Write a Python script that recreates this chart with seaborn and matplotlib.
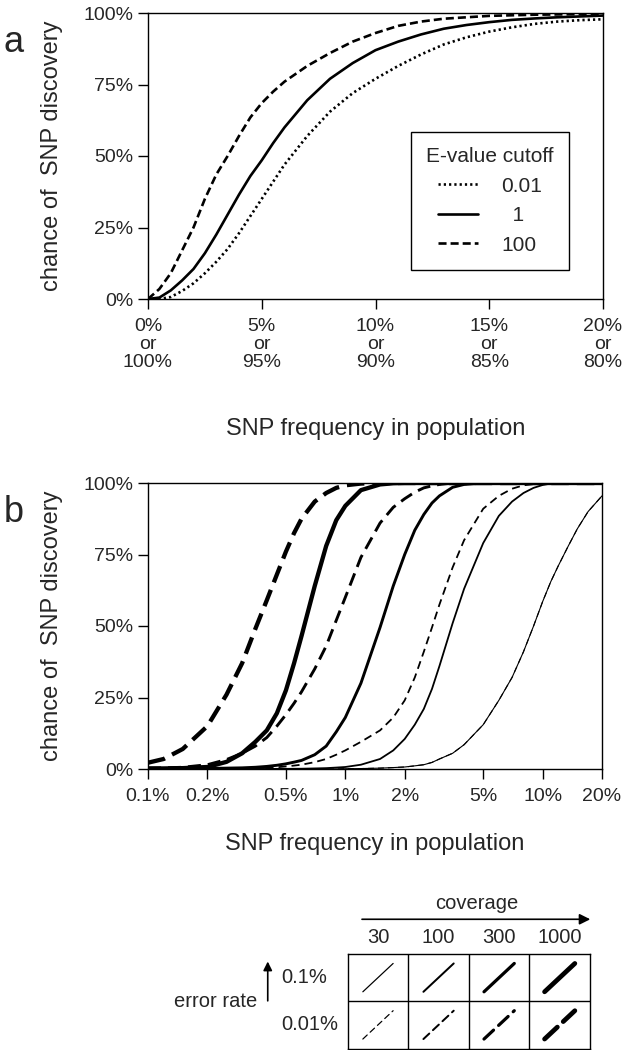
import matplotlib
matplotlib.use("Agg")
import matplotlib.pyplot as plt
import seaborn as sns

# ---- panel a: chance of discovery vs SNP frequency, by E-value cutoff ----
freq_a = [0, 0.5, 1, 1.5, 2, 2.5, 3, 3.5, 4, 4.5, 5, 5.5, 6, 7, 8, 9, 10,
          11, 12, 13, 14, 15, 16, 17, 18, 19, 20]
chance_e001 = [0, 0, 0.7, 2.8, 5.5, 9, 13, 17.5, 23, 29, 35, 41, 47, 57, 65.5,
               72, 77, 81.5, 85.5, 89, 91.5, 93.5, 95, 96.2, 97, 97.5, 97.8]
chance_e1 = [0, 0.5, 3, 6.5, 10.5, 16, 22.5, 29.5, 36.5, 43, 48.5, 54.5, 60,
             69.5, 77, 82.5, 87, 90, 92.5, 94.5, 95.8, 96.8, 97.6, 98.1, 98.5,
             98.8, 99.1]
chance_e100 = [0, 3.5, 9, 17, 25, 35, 43.5, 50, 57, 63.5, 68.5, 72.5, 76, 81.5,
               86, 90, 93, 95.5, 97, 98, 98.5, 99, 99.2, 99.4, 99.5, 99.6, 99.7]
evalue_labels = ["0.01", "  1", "100"]
xticks_a = [0, 5, 10, 15, 20]
xticklabels_a = ["0%\nor\n100%", "5%\nor\n95%", "10%\nor\n90%",
                 "15%\nor\n85%", "20%\nor\n80%"]

# ---- panel b: log frequency axis, coverage x error rate ----
freq_b = [0.1, 0.12, 0.15, 0.2, 0.25, 0.3, 0.35, 0.4, 0.45, 0.5,
          0.55, 0.6, 0.7, 0.8, 0.9, 1,
          1.2, 1.5, 1.75, 2, 2.25, 2.5, 2.75, 3,
          3.5, 4, 5, 6, 7, 8, 9, 10,
          11, 12, 13.5, 15, 17, 20]
# error rate 0.1% (solid)
cov30_err01 = [0, 0, 0, 0, 0, 0, 0, 0, 0, 0,
               0, 0, 0, 0, 0, 0.1,
               0.15, 0.3, 0.5, 0.7, 1.1, 1.5, 2.3, 3.5,
               5.5, 8.5, 15.5, 24, 32, 41, 50, 58.5,
               65.5, 71, 78, 84, 90, 95.5]
cov100_err01 = [0, 0, 0, 0, 0, 0, 0, 0, 0.05, 0.05,
                0.08, 0.1, 0.2, 0.3, 0.5, 0.7,
                1.5, 3.5, 6.5, 10.5, 15.5, 21, 28, 36,
                51, 63, 79, 88.5, 93.5, 96.5, 98.3, 99.3,
                99.8, 100, 100, 100, 100, 100]
cov300_err01 = [0.1, 0.1, 0.1, 0.2, 0.3, 0.4, 0.6, 0.9, 1.3, 1.8,
                2.4, 3, 5, 8, 13, 18,
                30, 49.5, 64, 75, 83.5, 89, 93, 95.5,
                98.5, 99.5, 100, 100, 100, 100, 100, 100,
                100, 100, 100, 100, 100, 100]
cov1000_err01 = [0.2, 0.2, 0.3, 0.7, 2.5, 5.5, 9.5, 13.5, 19.5, 27.5,
                 37, 46.5, 64, 78, 87, 92,
                 97.5, 99.5, 99.9, 100, 100, 100, 100, 100,
                 100, 100, 100, 100, 100, 100, 100, 100,
                 100, 100, 100, 100, 100, 100]
# error rate 0.01% (dashed)
cov30_err001 = [0, 0, 0, 0, 0, 0, 0, 0, 0, 0,
                0, 0, 0, 0, 0, 0.1,
                0.15, 0.3, 0.5, 0.7, 1.1, 1.5, 2.3, 3.5,
                5.5, 8.5, 15.5, 24, 32, 41, 50, 58.5,
                65.5, 71, 78, 84, 90, 95.5]
cov100_err001 = [0.05, 0.05, 0.1, 0.1, 0.2, 0.2, 0.3, 0.4, 0.6, 0.9,
                 1.2, 1.5, 2.4, 3.5, 5, 6.5,
                 9.5, 13.5, 18, 24, 32, 41, 49.5, 57.5,
                 70.5, 80, 91, 95.5, 98, 99.2, 99.6, 99.8,
                 99.9, 100, 100, 100, 100, 100]
cov300_err001 = [0.3, 0.4, 0.6, 1.5, 3.3, 5.5, 8, 11, 15, 19,
                 23, 27, 35, 43, 52, 60,
                 74, 86, 91.5, 94.5, 96.8, 98.3, 99, 99.5,
                 100, 100, 100, 100, 100, 100, 100, 100,
                 100, 100, 100, 100, 100, 100]
cov1000_err001 = [2.2, 3.5, 7, 15, 26, 37, 49, 59, 68, 76,
                  82.5, 87.5, 93.5, 96.5, 98.3, 99.2,
                  99.8, 100, 100, 100, 100, 100, 100, 100,
                  100, 100, 100, 100, 100, 100, 100, 100,
                  100, 100, 100, 100, 100, 100]
xticks_b = [0.1, 0.2, 0.5, 1, 2, 5, 10, 20]
xticklabels_b = ["0.1%", "0.2%", "0.5%", "1%", "2%", "5%", "10%", "20%"]
yticks = [0, 25, 50, 75, 100]
yticklabels = ["0%", "25%", "50%", "75%", "100%"]

coverages = ["30", "100", "300", "1000"]
error_rates = ["0.1%", "0.01%"]

# line width and dash pattern (points) per coverage
cov_lw = [0.8, 1.3, 2.1, 3.1]
cov_dash = [(4.3, 2.9), (5.8, 3.6), (9.4, 5.0), (12.6, 5.8)]

sns.set_theme(style="ticks")
plt.rcParams["font.family"] = ["Liberation Sans", "DejaVu Sans"]
plt.rcParams["lines.scale_dashes"] = False
plt.rcParams["axes.linewidth"] = 1.0

W, H = 628, 1050
fig = plt.figure(figsize=(W / 100, H / 100), dpi=100)


def px_axes(left, top, right, bottom):
    return fig.add_axes([left / W, 1 - bottom / H, (right - left) / W, (bottom - top) / H])


def style_axes(ax):
    for s in ax.spines.values():
        s.set_color("black")
        s.set_linewidth(1.0)
    ax.tick_params(axis="both", which="major", direction="out", length=7, width=1,
                   color="black", labelsize=14, pad=3.5, top=False, right=False)
    ax.tick_params(axis="both", which="minor", length=0)
    ax.set_ylim(0, 100)
    ax.set_yticks(yticks)
    ax.set_yticklabels(yticklabels)
    ax.set_ylabel("chance of  SNP discovery", fontsize=17)
    ax.yaxis.set_label_coords(-0.187, 0.5)


# ---- panel a ----
ax_a = px_axes(148, 13, 603, 299)
line_a = [(chance_e001, (0, (1.6, 2.2))), (chance_e1, "-"), (chance_e100, (0, (5.8, 2.9)))]
for (vals, ls), lab in zip(line_a, evalue_labels):
    sns.lineplot(x=freq_a, y=vals, ax=ax_a, color="black", lw=1.9, linestyle=ls,
                 label=lab, estimator=None)
ax_a.set_xlim(0, 20)
style_axes(ax_a)
ax_a.set_xticks(xticks_a)
ax_a.set_xticklabels(xticklabels_a, linespacing=1.05)
ax_a.tick_params(axis="x", pad=7)
ax_a.set_xlabel("SNP frequency in population", fontsize=17)
ax_a.xaxis.set_label_coords(0.5, -0.415)
leg = ax_a.legend(title="E-value cutoff", loc="upper left", bbox_to_anchor=(0.577, 0.585),
                  borderaxespad=0, fontsize=15, title_fontsize=15, frameon=True,
                  fancybox=False, edgecolor="black", framealpha=1, handlelength=1.95,
                  handletextpad=1.1, labelspacing=0.5, borderpad=0.75)
leg.get_frame().set_linewidth(1.0)

# ---- panel b ----
ax_b = px_axes(148, 483, 602, 769)
solid_b = [cov30_err01, cov100_err01, cov300_err01, cov1000_err01]
dashed_b = [cov30_err001, cov100_err001, cov300_err001, cov1000_err001]
for i in range(len(coverages)):
    sns.lineplot(x=freq_b, y=solid_b[i], ax=ax_b, color="black", lw=cov_lw[i],
                 linestyle="-", estimator=None)
    sns.lineplot(x=freq_b, y=dashed_b[i], ax=ax_b, color="black", lw=cov_lw[i],
                 linestyle=(0, cov_dash[i]), estimator=None)
ax_b.set_xscale("log")
ax_b.set_xlim(0.1, 20)
style_axes(ax_b)
ax_b.set_xticks(xticks_b)
ax_b.set_xticklabels(xticklabels_b)
ax_b.minorticks_off()
ax_b.tick_params(axis="x", pad=6.5)
ax_b.set_xlabel("SNP frequency in population", fontsize=17)
ax_b.xaxis.set_label_coords(0.5, -0.225)

fig.text(14 / W, 1 - 42 / H, "a", fontsize=26, ha="center", va="center")
fig.text(14 / W, 1 - 512 / H, "b", fontsize=26, ha="center", va="center")

# ---- key table for panel b ----
ax_t = px_axes(347.7, 954, 590, 1048.5)
ax_t.set_xlim(0, 4)
ax_t.set_ylim(0, 2)
ax_t.set_xticks([])
ax_t.set_yticks([])
for s in ax_t.spines.values():
    s.set_color("black")
    s.set_linewidth(1.0)
for c in range(1, len(coverages)):
    ax_t.axvline(c, color="black", lw=1.0)
ax_t.axhline(1, color="black", lw=1.0)
for c, cov in enumerate(coverages):
    ax_t.text(c + 0.5, 2.34, cov, ha="center", va="center", fontsize=14.5, clip_on=False)
    for r, err in enumerate(error_rates):
        row = 1 - r
        ls = "-" if r == 0 else (0, cov_dash[c])
        ax_t.plot([c + 0.25, c + 0.75], [row + 0.2, row + 0.8], color="black",
                  lw=cov_lw[c] * 1.1, linestyle=ls, solid_capstyle="round",
                  dash_capstyle="round")
for r, err in enumerate(error_rates):
    ax_t.text(-1.1, 1.5 - r, err, ha="left", va="center", fontsize=14.5, clip_on=False)
ax_t.text(2.13, 3.07, "coverage", ha="center", va="center", fontsize=14.5)
ax_t.annotate("", xy=(4.05, 2.735), xytext=(0.19, 2.735), annotation_clip=False,
              arrowprops=dict(arrowstyle="-|>", color="black", lw=1.2, mutation_scale=16))
ax_t.annotate("", xy=(-1.32, 1.9), xytext=(-1.32, 0.95), annotation_clip=False,
              arrowprops=dict(arrowstyle="-|>", color="black", lw=1.2, mutation_scale=13))
ax_t.text(-1.5, 1.0, "error rate", ha="right", va="center", fontsize=14.5)

fig.savefig("out.png", dpi=100)
